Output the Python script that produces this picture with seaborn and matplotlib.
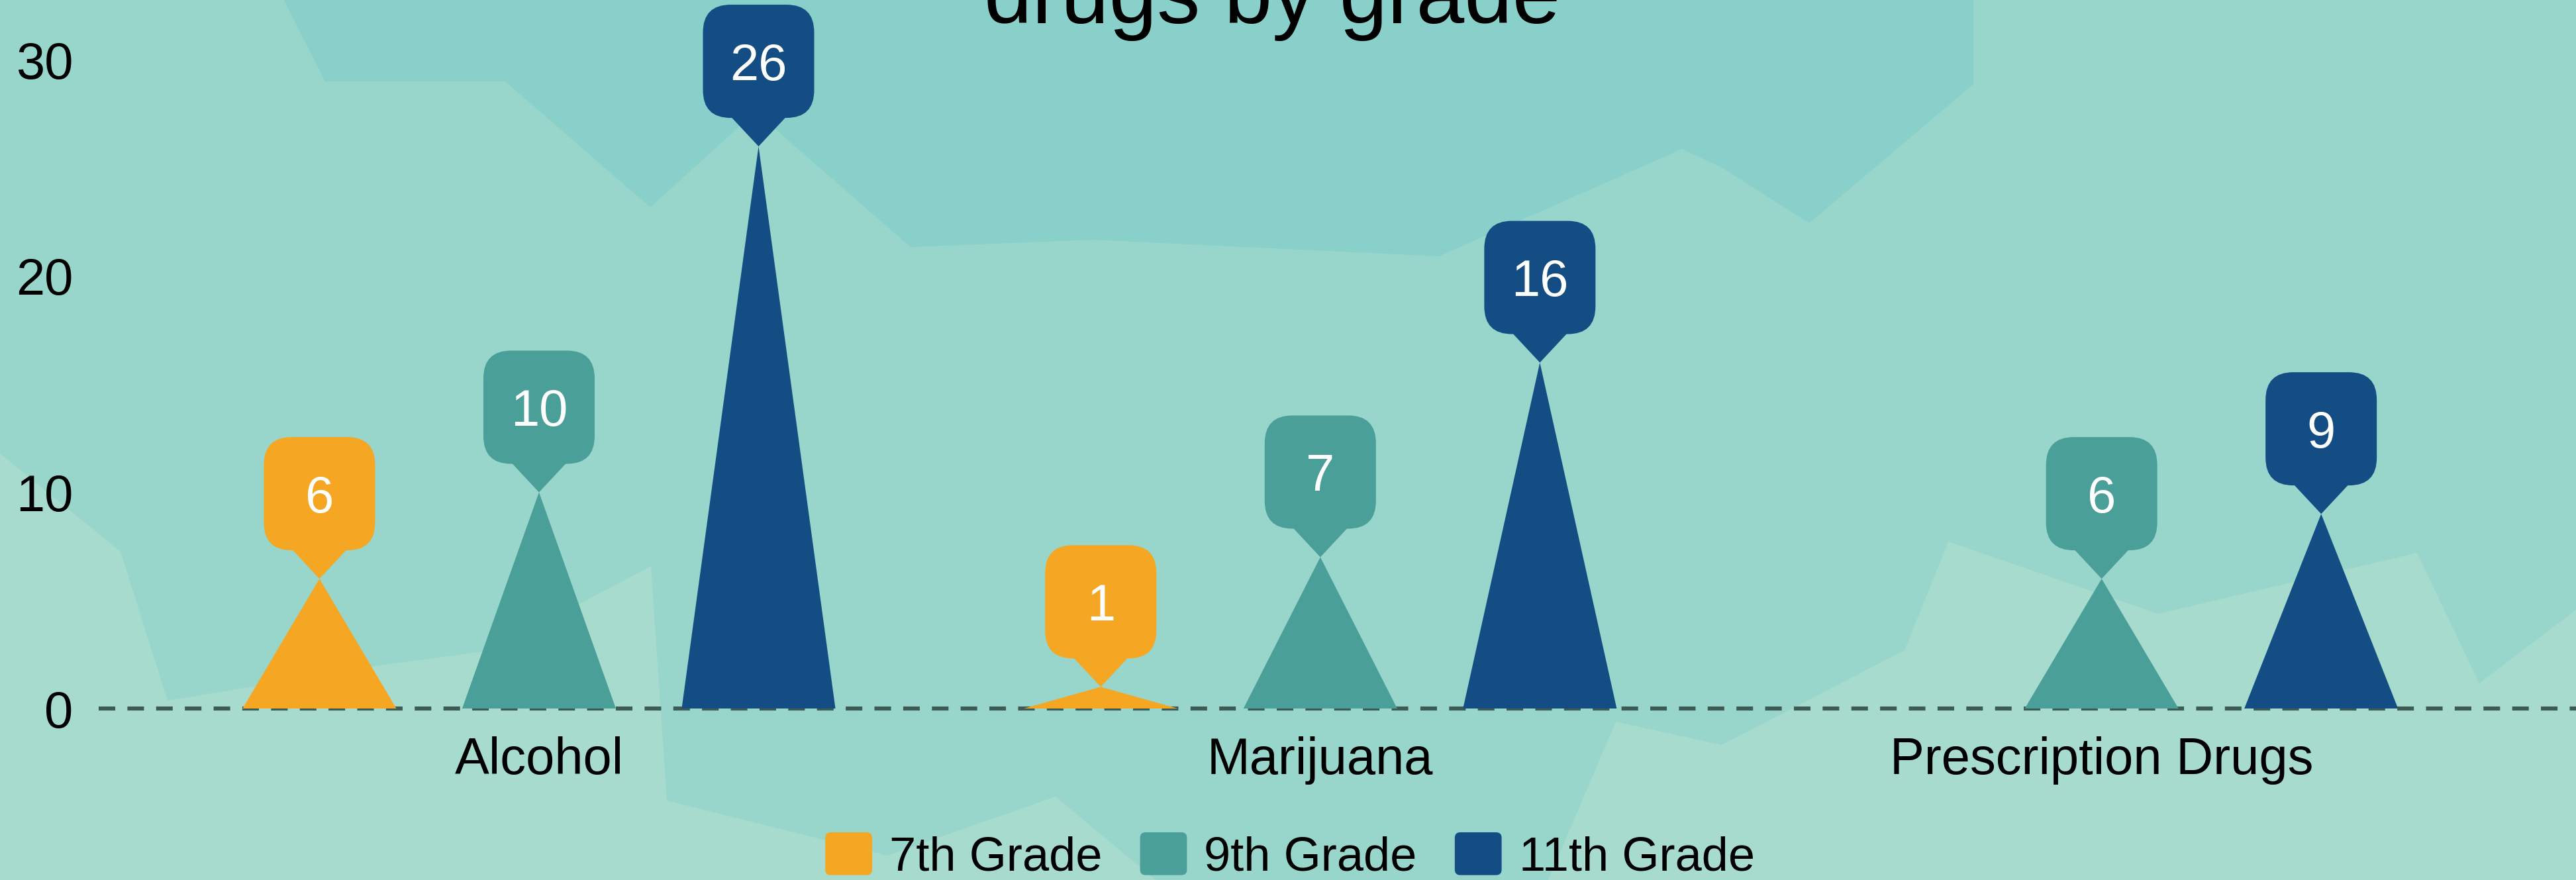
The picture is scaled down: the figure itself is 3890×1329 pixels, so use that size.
import numpy as np
import pandas as pd
import seaborn as sns
import matplotlib.pyplot as plt
from matplotlib.patches import Polygon, FancyBboxPatch, Patch
from matplotlib.legend_handler import HandlerPatch
from matplotlib.transforms import ScaledTranslation

# data
drugs = ["Alcohol", "Marijuana", "Prescription Drugs"]
grades = ["7th Grade", "9th Grade", "11th Grade"]
grade_7 = [6, 1, 0]
grade_9 = [10, 7, 6]
grade_11 = [26, 16, 9]
colors = ["#F5A623", "#4A9F98", "#134D84"]
y_ticks = [0, 10, 20, 30]
title = "drugs by grade"

df = pd.DataFrame({
    "drug": drugs * 3,
    "grade": np.repeat(grades, len(drugs)),
    "count": grade_7 + grade_9 + grade_11,
})

# background colours and decorative shapes (pixel coords of the 3891x1329 canvas)
W, H = 3891, 1329
MID = "#98D6CB"
DARK = "#88D0C9"
LIGHT = "#A7DBCD"
dark_shape = [(429, 0), (491, 123), (763, 123), (982, 313), (1141, 169), (1375, 373),
              (1650, 362), (2173, 387), (2540, 225), (2600, 253), (2732, 337),
              (2980, 127), (2980, 0)]
light_left = [(0, 685), (182, 833), (253, 1058), (572, 1005), (730, 984), (879, 910),
              (983, 855), (1007, 1209), (1340, 1292), (1594, 1203), (1745, 1329), (0, 1329)]
light_right = [(2338, 1329), (2440, 1090), (2600, 1125), (2876, 982), (2942, 818),
               (3259, 927), (3650, 835), (3744, 1032), (3891, 920), (3891, 1329)]

sns.set_theme(style="white")
plt.rcParams["font.family"] = ["Liberation Sans", "DejaVu Sans"]
plt.rcParams["text.color"] = "black"
plt.rcParams["xtick.color"] = "black"
plt.rcParams["ytick.color"] = "black"

DPI = 200
fig = plt.figure(figsize=(W / DPI, H / DPI), dpi=DPI)
fig.patch.set_facecolor(MID)

bg = fig.add_axes([0, 0, 1, 1], zorder=-1)
bg.set_xlim(0, W)
bg.set_ylim(H, 0)
bg.axis("off")
for shape, col in [(dark_shape, DARK), (light_left, LIGHT), (light_right, LIGHT)]:
    bg.add_patch(Polygon(shape, closed=True, fc=col, lw=0))

ax = fig.add_axes([149 / W, 1 - 1070 / H, 1 - 149 / W, 1070 / H])
ax.set_facecolor("none")

sns.barplot(data=df, x="drug", y="count", hue="grade", order=drugs, hue_order=grades,
            palette=colors, saturation=1, width=0.843, gap=0.3, errorbar=None,
            legend=False, ax=ax)


def callout(x, y, color, text):
    # speech-bubble label, sized in inches, anchored at the bar tip
    tr = fig.dpi_scale_trans + ScaledTranslation(x, y, ax.transData)
    bw, bh, ph, pw, r = 0.84, 0.855, 0.215, 0.42, 0.21
    ax.add_patch(Polygon([(0, 0), (-pw / 2, ph + 0.01), (pw / 2, ph + 0.01)], closed=True,
                         transform=tr, fc=color, lw=0, clip_on=False, zorder=4))
    ax.add_patch(FancyBboxPatch((-bw / 2, ph), bw, bh,
                                boxstyle=f"round,pad=0,rounding_size={r}",
                                transform=tr, fc=color, lw=0, clip_on=False, zorder=4))
    ax.text(0, ph + bh / 2 - 0.14, text, transform=tr, ha="center", va="baseline",
            color="white", fontsize=28, zorder=5, clip_on=False)


# turn each bar into a triangle with a label bubble on top
for container, color in zip(ax.containers, colors):
    for bar in container:
        bar.set_visible(False)
        x0, w, h = bar.get_x(), bar.get_width(), bar.get_height()
        if h <= 0:
            continue
        ax.add_patch(Polygon([(x0, 0), (x0 + w / 2, h), (x0 + w, 0)], closed=True,
                             fc=color, lw=0, zorder=3))
        callout(x0 + w / 2, h, color, f"{h:g}")

ax.axhline(0, color="#3E5A55", lw=2.2, ls=(0, (4.1, 3.0)), zorder=2, clip_on=False)

ax.set_xlim(-0.5636, 2.608)
ax.set_ylim(0, 32.77)
ax.set_yticks(y_ticks)
ax.set_xlabel("")
ax.set_ylabel("")
ax.tick_params(axis="both", length=0, labelsize=28, colors="black")
ax.tick_params(axis="y", pad=14)
ax.tick_params(axis="x", pad=15)
sns.despine(ax=ax, left=True, bottom=True)


def round_patch(legend, orig_handle, xdescent, ydescent, width, height, fontsize):
    return FancyBboxPatch((-xdescent, -ydescent), width, height,
                          boxstyle="round,pad=0,rounding_size=3")


handles = [Patch(facecolor=c, edgecolor="none") for c in colors]
leg = fig.legend(handles, grades, loc="center", bbox_to_anchor=(1948 / W, 1 - 1293 / H),
                 ncol=3, frameon=False, fontsize=26, handlelength=0.98, handleheight=1.0,
                 handletextpad=0.36, columnspacing=0.79, borderpad=0,
                 handler_map={Patch: HandlerPatch(patch_func=round_patch)})
for t in leg.get_texts():
    t.set_color("black")

fig.text(1921 / W, 1 - 35 / H, title, ha="center", va="baseline", fontsize=47,
         color="black")

fig.savefig("out.png", dpi=DPI)
